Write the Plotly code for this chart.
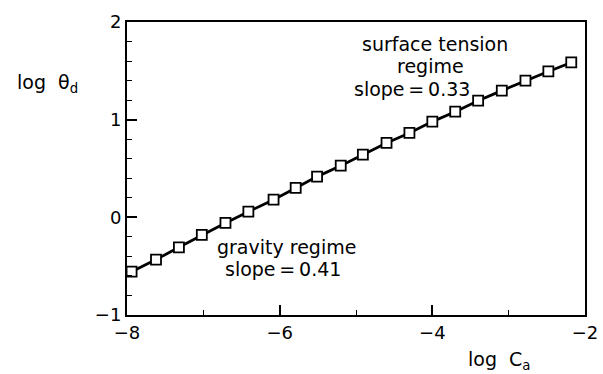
import plotly.graph_objects as go

# log capillary number vs log dynamic contact angle
log_ca = [-7.94, -7.62, -7.32, -7.02, -6.71, -6.41, -6.08, -5.79, -5.51, -5.20,
          -4.91, -4.60, -4.30, -4.00, -3.70, -3.40, -3.09, -2.78, -2.48, -2.18]
log_theta = [-0.556, -0.433, -0.307, -0.180, -0.057, 0.058, 0.181, 0.301, 0.417, 0.529,
             0.642, 0.762, 0.864, 0.980, 1.082, 1.194, 1.297, 1.399, 1.494, 1.586]

x_ticks = [-8, -6, -4, -2]
y_ticks = [-1, 0, 1, 2]

FONT = "DejaVu Sans"
INK = "black"

fig = go.Figure()
fig.add_trace(go.Scatter(
    x=log_ca, y=log_theta, mode="lines+markers",
    line=dict(color=INK, width=2.8),
    marker=dict(symbol="square", size=10, color="white",
                line=dict(color=INK, width=1.8)),
    showlegend=False, cliponaxis=False,
))

axis_common = dict(
    showline=True, linecolor=INK, linewidth=2, mirror=True,
    ticks="inside", ticklen=10, tickwidth=1.6, tickcolor=INK,
    showgrid=False, zeroline=False,
    tickfont=dict(family=FONT, size=18, color=INK),
    ticklabeloverflow="allow",
)

fig.update_xaxes(range=[-8, -2], tickvals=x_ticks,
                 ticktext=["\u2212" + str(abs(v)) for v in x_ticks],
                 minor=dict(ticks="inside", ticklen=5, tickwidth=1.4,
                            tickcolor=INK, dtick=1, tick0=-8),
                 **axis_common)
fig.update_yaxes(range=[-1, 2], tickvals=y_ticks,
                 ticktext=["\u22121" if v == -1 else str(v) for v in y_ticks],
                 minor=dict(ticks="inside", ticklen=5, tickwidth=1.4,
                            tickcolor=INK, dtick=0.2, tick0=0),
                 **axis_common)

text_font = dict(family=FONT, size=19, color=INK)

# regime labels, one annotation per line
regime_lines = [
    (-3.96, 1.775, "surface tension"),
    (-4.03, 1.55, "regime"),
    (-4.27, 1.315, "slope\u2009=\u20090.33"),
    (-5.91, -0.303, "gravity regime"),
    (-5.96, -0.528, "slope\u2009=\u20090.41"),
]
for x, y, t in regime_lines:
    fig.add_annotation(x=x, y=y, text=t, showarrow=False, font=text_font,
                       xref="x", yref="y")

# axis titles placed as free text
fig.add_annotation(x=-0.244, y=0.79, xref="paper", yref="paper",
                   text="log  \u03b8<sub>d</sub>", showarrow=False,
                   font=dict(family=FONT, size=19, color=INK), xanchor="left",
                   yanchor="middle")
fig.add_annotation(x=0.741, y=-0.155, xref="paper", yref="paper",
                   text="log  C<sub>a</sub>", showarrow=False,
                   font=dict(family=FONT, size=19, color=INK), xanchor="left",
                   yanchor="middle")

fig.update_layout(
    width=603, height=374,
    margin=dict(l=127, r=5, t=22, b=59),
    paper_bgcolor="white", plot_bgcolor="white",
)

fig.write_html("out.html")
